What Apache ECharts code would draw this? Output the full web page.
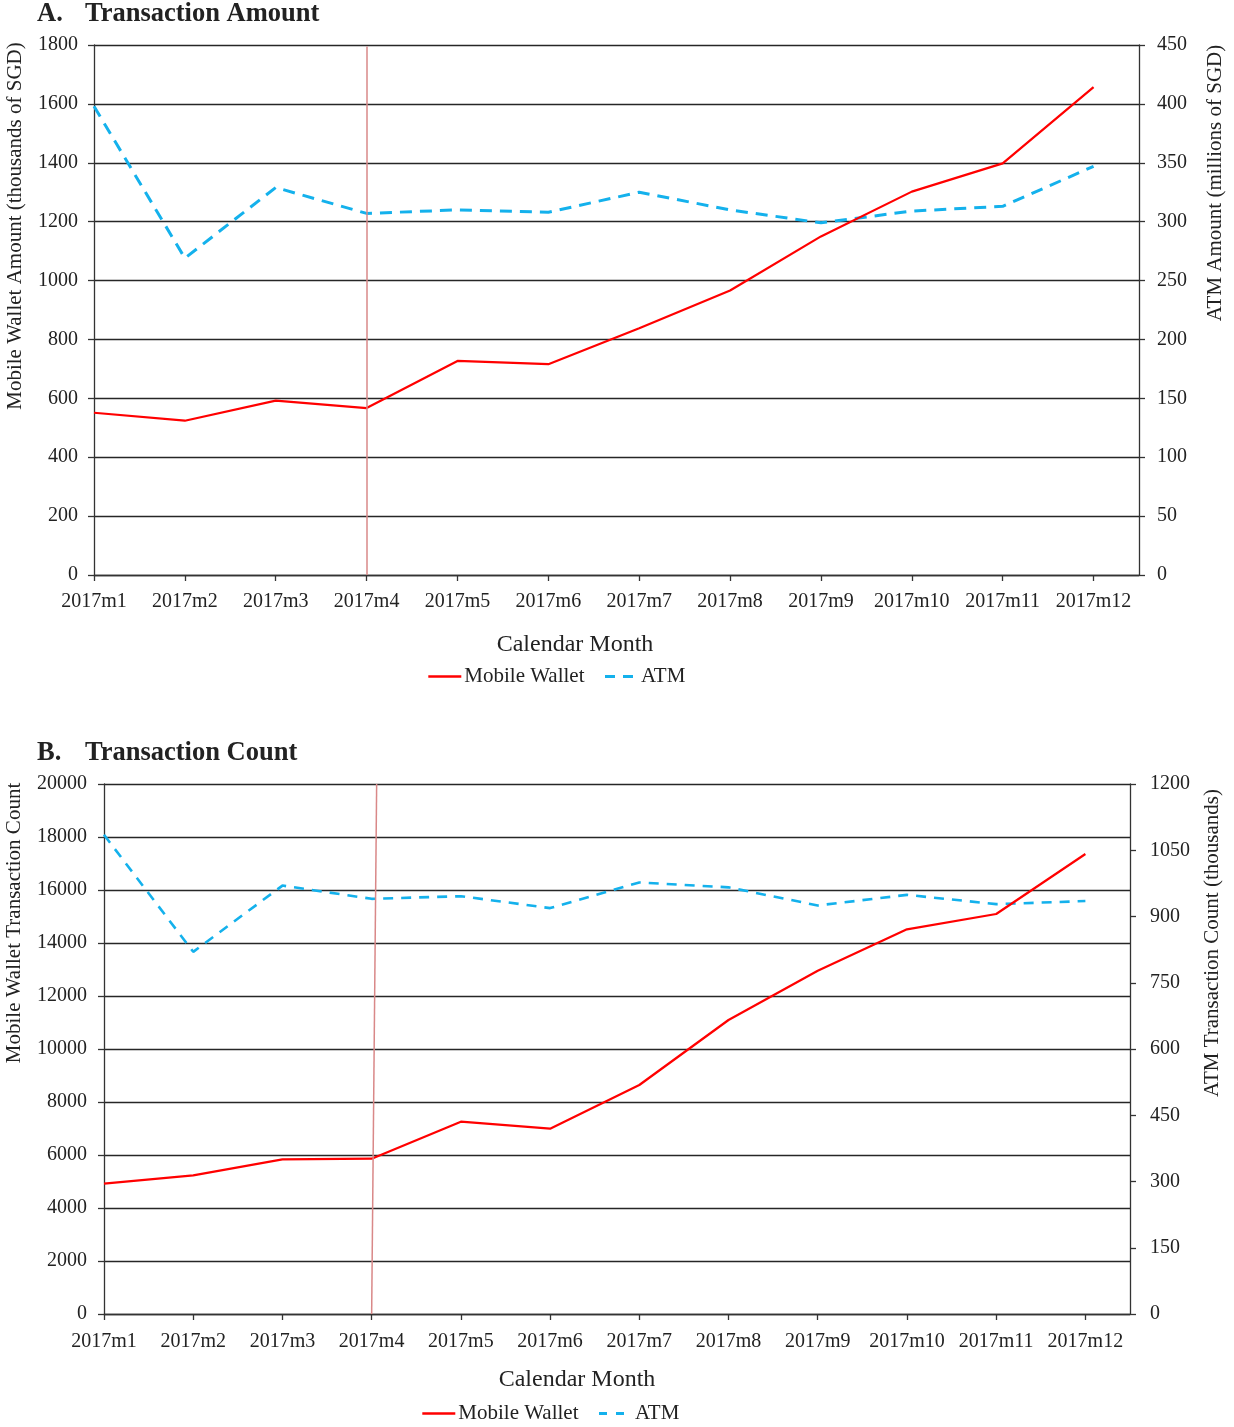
<!DOCTYPE html>
<html>
<head>
<meta charset="utf-8">
<script src="https://cdn.jsdelivr.net/npm/echarts@6/dist/echarts.min.js"></script>
<style>
  html, body { margin: 0; padding: 0; background: #fff; }
  #chart { width: 1234px; height: 1427px; }
</style>
</head>
<body>
<div id="chart"></div>
<script>
// Monthly categories shared by both panels
const months = ['2017m1', '2017m2', '2017m3', '2017m4', '2017m5', '2017m6',
                '2017m7', '2017m8', '2017m9', '2017m10', '2017m11', '2017m12'];

// Panel A: transaction amount
const amountWallet = [551, 524, 592, 567, 727, 716, 838, 966, 1150, 1302, 1398, 1657]; // thousands of SGD
const amountAtm = [398, 269, 329, 307, 310, 308, 325, 310, 299, 309, 313, 347];          // millions of SGD

// Panel B: transaction count
const countWallet = [4917, 5233, 5836, 5862, 7258, 6994, 8641, 11094, 12956, 14516, 15094, 17358];
const countAtm = [1085, 820, 970, 940, 946, 919, 977, 966, 925, 949, 928, 935];           // thousands

const FONT = '"Liberation Serif", "Times New Roman", serif';
const INK = '#222';
const RED = '#ff0000';
const BLUE = '#14b1ec';
const monthIdx = months.map((m, i) => i);
const toPairs = arr => arr.map((v, i) => [i, v]);

function xAxisFor(gridIndex, margin) {
  return {
    type: 'value', gridIndex, min: 0, max: 11.5, interval: 1,
    splitLine: { show: false },
    axisLine: { show: true, lineStyle: { color: '#333', width: 1.3 } },
    axisTick: { show: true, length: 6, customValues: monthIdx, lineStyle: { color: '#333', width: 1.3 } },
    axisLabel: {
      customValues: monthIdx, margin,
      formatter: v => months[Math.round(v)] || '',
      color: INK, fontFamily: FONT, fontSize: 20
    }
  };
}

function yAxisFor(gridIndex, position, max, interval, grid, margin) {
  return {
    type: 'value', gridIndex, position, min: 0, max, interval,
    axisLine: { show: true, lineStyle: { color: '#333', width: 1.3 } },
    axisTick: { show: true, length: 6, lineStyle: { color: '#333', width: 1.3 } },
    axisLabel: { color: INK, fontFamily: FONT, fontSize: 20, margin, formatter: v => String(v) },
    splitLine: { show: grid, lineStyle: { color: '#262626', width: 1.3 } }
  };
}

function label(text, x, y, size, opts) {
  const o = opts || {};
  return {
    type: 'text', x, y, rotation: o.rotate ? Math.PI / 2 : 0, silent: true,
    style: {
      text, fill: INK,
      font: (o.bold ? 'bold ' : '') + size + 'px ' + FONT,
      align: o.align || 'center', verticalAlign: 'middle',
      textAlign: o.align || 'center', textVerticalAlign: 'middle'
    }
  };
}

function legendAt(left, top, dash) {
  return {
    left, top, orient: 'horizontal', padding: 0,
    itemWidth: 33, itemHeight: 14, itemGap: 19,
    selectedMode: false,
    itemStyle: { opacity: 0 },
    textStyle: { color: INK, fontFamily: FONT, fontSize: 21, padding: [0, 0, 0, -2] },
    data: [
      { name: 'Mobile Wallet', lineStyle: { color: RED, width: 2.6, type: 'solid' } },
      { name: 'ATM', lineStyle: { color: BLUE, width: 3, type: dash } }
    ]
  };
}

function markerLine(top, bottom) {
  return {
    silent: true, symbol: 'none', label: { show: false },
    lineStyle: { color: '#d98888', width: 1.5, type: 'solid' },
    data: [[{ coord: top }, { coord: bottom }]]
  };
}

const chart = echarts.init(document.getElementById('chart'), null, { renderer: 'canvas' });

chart.setOption({
  animation: false,
  backgroundColor: '#fff',
  grid: [
    { left: 94, right: 95, top: 45, height: 530 },
    { left: 104, right: 104, top: 784, height: 530 }
  ],
  xAxis: [xAxisFor(0, 17), xAxisFor(1, 18)],
  yAxis: [
    yAxisFor(0, 'left', 1800, 200, true, 16),
    yAxisFor(0, 'right', 450, 50, false, 18),
    yAxisFor(1, 'left', 20000, 2000, true, 17),
    yAxisFor(1, 'right', 1200, 150, false, 20)
  ],
  legend: [legendAt(427, 666, [10, 8]), legendAt(421, 1403, [8, 9])],
  series: [
    {
      name: 'ATM', type: 'line', xAxisIndex: 0, yAxisIndex: 1,
      data: toPairs(amountAtm), symbol: 'none', z: 2,
      lineStyle: { color: BLUE, width: 3, type: [12, 8] }, itemStyle: { color: BLUE }
    },
    {
      name: 'Mobile Wallet', type: 'line', xAxisIndex: 0, yAxisIndex: 0,
      data: toPairs(amountWallet), symbol: 'none', z: 3,
      lineStyle: { color: RED, width: 2.2 }, itemStyle: { color: RED },
      markLine: markerLine([3, 1795], [3, 0])
    },
    {
      name: 'ATM', type: 'line', xAxisIndex: 1, yAxisIndex: 3,
      data: toPairs(countAtm), symbol: 'none', z: 2,
      lineStyle: { color: BLUE, width: 2.6, type: [10, 8] }, itemStyle: { color: BLUE }
    },
    {
      name: 'Mobile Wallet', type: 'line', xAxisIndex: 1, yAxisIndex: 2,
      data: toPairs(countWallet), symbol: 'none', z: 3,
      lineStyle: { color: RED, width: 2.2 }, itemStyle: { color: RED },
      markLine: markerLine([3.056, 20000], [3, 0])
    }
  ],
  graphic: [
    label('A.', 37, 14, 26.5, { bold: true, align: 'left' }),
    label('Transaction Amount', 85, 14, 26.5, { bold: true, align: 'left' }),
    label('Mobile Wallet Amount (thousands of SGD)', 15, 226, 21, { rotate: true }),
    label('ATM Amount (millions of SGD)', 1215, 183, 21, { rotate: true }),
    label('Calendar Month', 575, 645, 24),

    label('B.', 37, 753, 26.5, { bold: true, align: 'left' }),
    label('Transaction Count', 85, 753, 26.5, { bold: true, align: 'left' }),
    label('Mobile Wallet Transaction Count', 14, 923, 21, { rotate: true }),
    label('ATM Transaction Count (thousands)', 1212, 943, 21, { rotate: true }),
    label('Calendar Month', 577, 1380, 24)
  ]
});
</script>
</body>
</html>
